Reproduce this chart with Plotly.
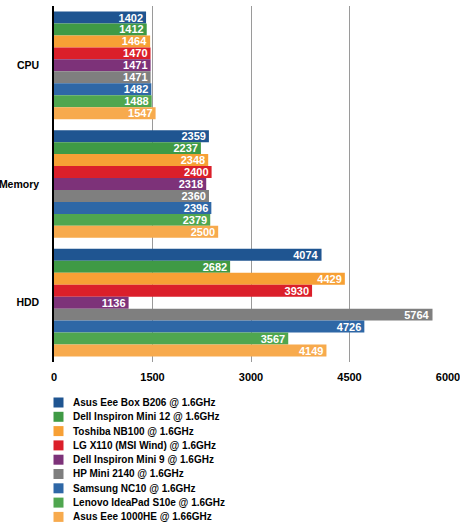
import plotly.graph_objects as go

categories = ["CPU", "Memory", "HDD"]
series_names = [
    "Asus Eee Box B206 @ 1.6GHz",
    "Dell Inspiron Mini 12 @ 1.6GHz",
    "Toshiba NB100 @ 1.6GHz",
    "LG X110 (MSI Wind) @ 1.6GHz",
    "Dell Inspiron Mini 9 @ 1.6GHz",
    "HP Mini 2140 @ 1.6GHz",
    "Samsung NC10 @ 1.6GHz",
    "Lenovo IdeaPad S10e @ 1.6GHz",
    "Asus Eee 1000HE @ 1.66GHz",
]
cpu = [1402, 1412, 1464, 1470, 1471, 1471, 1482, 1488, 1547]
memory = [2359, 2237, 2348, 2400, 2318, 2360, 2396, 2379, 2500]
hdd = [4074, 2682, 4429, 3930, 1136, 5764, 4726, 3567, 4149]
colors = ["#1F5591", "#3F9A45", "#F7A035", "#DB1F2A", "#7D3279",
          "#7F7F7F", "#2E67A6", "#4FA64F", "#F7AA4D"]
tick_vals = [0, 1500, 3000, 4500, 6000]

FONT = "Liberation Sans, Arial, sans-serif"

W, H = 460, 526
ML, MR, MT, MB = 54, 12, 6, 164
PW = W - ML - MR
PH = H - MT - MB

def px_x(x):
    return (x - ML) / PW

def px_y(y):
    return (H - MB - y) / PH

fig = go.Figure()
for i, name in enumerate(series_names):
    vals = [cpu[i], memory[i], hdd[i]]
    fig.add_trace(go.Bar(
        y=categories, x=vals, name=name, orientation="h",
        marker=dict(color=colors[i], line=dict(width=0)),
        text=[f"<b>{v}</b>" for v in vals],
        textposition="inside", insidetextanchor="end",
        constraintext="none",
        textfont=dict(color="white", size=11, family=FONT),
        hoverinfo="x+name",
        showlegend=False,
    ))

# manual compact legend
shapes = []
annotations = []
first_y, step = 402.5, 14.3
for i, name in enumerate(series_names):
    cy = first_y + i * step
    shapes.append(dict(
        type="rect", xref="paper", yref="paper",
        x0=px_x(53.5), x1=px_x(63.5), y0=px_y(cy + 5), y1=px_y(cy - 5),
        fillcolor=colors[i], line=dict(width=0),
    ))
    annotations.append(dict(
        xref="paper", yref="paper", x=px_x(71), y=px_y(cy),
        xanchor="left", yanchor="middle", showarrow=False,
        text=f"<b>{name}</b>",
        font=dict(size=10, family=FONT, color="black"),
    ))

fig.update_layout(
    width=W, height=H,
    barmode="group", bargap=0.093, bargroupgap=0,
    plot_bgcolor="white", paper_bgcolor="white",
    margin=dict(l=ML, r=MR, t=MT, b=MB, autoexpand=False),
    font=dict(family=FONT, color="black"),
    showlegend=False,
    shapes=shapes,
    annotations=annotations,
)
fig.update_xaxes(
    range=[0, 6000], tickvals=tick_vals,
    ticktext=[f"<b>{t}</b>" for t in tick_vals],
    tickfont=dict(size=11, family=FONT, color="black"),
    showgrid=True, gridcolor="#9A9A9A", gridwidth=1,
    zeroline=False, showline=False, ticks="",
    automargin=False, ticklabelstandoff=7,
    ticklabeloverflow="allow",
)
fig.update_yaxes(
    autorange="reversed",
    ticktext=[f"<b>{c}</b>" for c in categories], tickvals=categories,
    tickfont=dict(size=10.5, family=FONT, color="black"),
    showline=True, linecolor="black", linewidth=1.5,
    ticks="", ticklabelstandoff=11, automargin=False,
    ticklabeloverflow="allow",
)

fig.write_html(
    "out.html",
    config={"displayModeBar": False},
    post_script="document.body.style.margin='0';document.body.style.padding='0';",
)
